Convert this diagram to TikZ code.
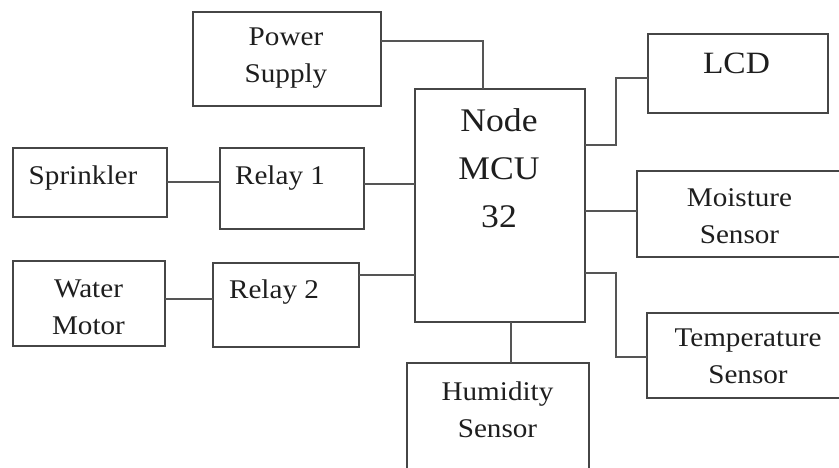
\documentclass[tikz,border=0pt]{standalone}
\usepackage{fontspec}
\setmainfont{Liberation Serif}[FakeStretch=1.08]
\usepackage{tikz}
\usetikzlibrary{calc}
\definecolor{wirecolor}{RGB}{85,85,85}
\definecolor{boxcolor}{RGB}{70,70,70}
\definecolor{inkcolor}{RGB}{30,30,30}
\tikzset{
    blockbox/.style={rectangle, draw=boxcolor, line width=1.4pt,
        inner sep=0pt, outer sep=0pt},
    wire/.style={draw=wirecolor, line width=1.3pt},
    lbl/.style={anchor=base, align=center, inner sep=0pt, text=inkcolor,
        font=\fontsize{27}{37}\selectfont},
    biglbl/.style={lbl, font=\fontsize{33}{48}\selectfont}
}

\begin{document}
\begin{tikzpicture}[x=1pt, y=-1pt]
\clip (0,0) rectangle (839,467);

% Blocks
\node[blockbox, minimum width=188pt, minimum height=94pt]  (pwr)   at (287,59)    {};
\node[blockbox, minimum width=170pt, minimum height=233pt] (mcu)   at (500,205.5) {};
\node[blockbox, minimum width=180pt, minimum height=79pt]  (lcd)   at (738,73.5)  {};
\node[blockbox, minimum width=154pt, minimum height=69pt]  (sprk)  at (90,182.5)  {};
\node[blockbox, minimum width=144pt, minimum height=81pt]  (relA)  at (292,188.5) {};
\node[blockbox, minimum width=213pt, minimum height=86pt]  (moist) at (743.5,214) {};
\node[blockbox, minimum width=152pt, minimum height=85pt]  (wmot)  at (89,303.5)  {};
\node[blockbox, minimum width=146pt, minimum height=84pt]  (relB)  at (286,305)   {};
\node[blockbox, minimum width=203pt, minimum height=85pt]  (temp)  at (748.5,355.5) {};
\node[blockbox, minimum width=182pt, minimum height=117pt] (hum)   at (498,421.5) {};

% Labels (base = last line)
\node[lbl] (pwrT)   at (286,82)  {Power\\Supply};
\node[biglbl] (mcuT) at (499,227) {Node\\MCU\\32};
\node[lbl, font=\fontsize{31}{37}\selectfont] (lcdT) at (736.5,73) {LCD};
\node[lbl] (sprkT)  at (83,184)  {Sprinkler};
\node[lbl] (relAT)  at (280,184) {Relay 1};
\node[lbl] (moistT) at (739.5,243) {Moisture\\Sensor};
\node[lbl] (wmotT)  at (88.5,334) {Water\\Motor};
\node[lbl] (relBT)  at (274,298) {Relay 2};
\node[lbl] (tempT)  at (748,383) {Temperature\\Sensor};
\node[lbl] (humT)   at (497.5,437) {Humidity\\Sensor};

% Wires
\draw[wire] ($(pwr.north east)+(0,29)$) -| ($(mcu.north west)+(68,0)$);
\draw[wire] ($(mcu.north east)+(0,56)$) -- ++(31,0) |- ($(lcd.west)+(0,4.5)$);
\draw[wire] ($(sprk.east)+(0,-0.5)$) coordinate (sprkout) -- (sprkout -| relA.west);
\draw[wire] ($(relA.east)+(0,-4.5)$) coordinate (relAout) -- (relAout -| mcu.west);
\draw[wire] ($(wmot.east)+(0,-4.5)$) coordinate (wmotout) -- (wmotout -| relB.west);
\draw[wire] ($(relB.east)+(0,-30)$) coordinate (relBout) -- (relBout -| mcu.west);
\draw[wire] ($(moist.west)+(0,-3)$) coordinate (moistin) -- (moistin -| mcu.east);
\draw[wire] ($(mcu.north east)+(0,184)$) -- ++(31,0) |- ($(temp.west)+(0,1.5)$);
\draw[wire] ($(mcu.south)+(11,0)$) coordinate (humin) -- (humin |- hum.north);

\end{tikzpicture}
\end{document}
